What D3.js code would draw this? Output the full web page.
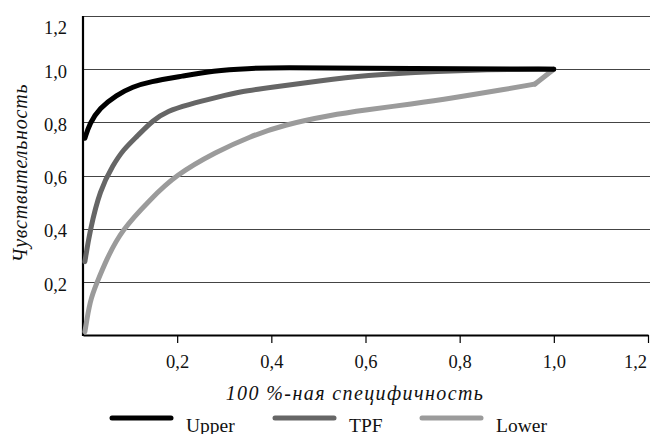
<html>
<head>
<meta charset="utf-8">
<script src="https://d3js.org/d3.v7.min.js"></script>
<style>
body { margin: 0; background: #fff; }
svg { display: block; font-family: 'Liberation Serif', 'DejaVu Serif', serif; }
</style>
</head>
<body>
<div id="chart"></div>
<script>
// values
var upperX = [0.004, 0.014, 0.035, 0.071, 0.106, 0.141, 0.212, 0.276, 0.35, 0.42, 0.6, 0.8, 1.0];
var upperY = [0.74, 0.796, 0.853, 0.903, 0.934, 0.953, 0.974, 0.994, 1.003, 1.006, 1.004, 1.001, 1.0];

var tpfX = [0.004, 0.015, 0.036, 0.064, 0.085, 0.114, 0.149, 0.18, 0.22, 0.291, 0.333, 0.4, 0.5, 0.61, 0.7, 0.82, 0.9, 1.0];
var tpfY = [0.276, 0.395, 0.546, 0.64, 0.696, 0.746, 0.809, 0.843, 0.865, 0.897, 0.915, 0.932, 0.956, 0.978, 0.988, 0.996, 0.999, 1.0];

var lowerX = [0.004, 0.015, 0.029, 0.05, 0.082, 0.142, 0.195, 0.284, 0.354, 0.425, 0.528, 0.6, 0.7, 0.78, 0.9, 0.96, 1.0];
var lowerY = [0.012, 0.132, 0.194, 0.285, 0.395, 0.508, 0.6, 0.69, 0.746, 0.79, 0.828, 0.846, 0.87, 0.89, 0.925, 0.944, 1.0];

var seriesNames = ["Upper", "TPF", "Lower"];
var seriesColors = ["#000000", "#666666", "#9b9b9b"];
var xTicks = [0.2, 0.4, 0.6, 0.8, 1.0, 1.2];
var yTicks = [0.2, 0.4, 0.6, 0.8, 1.0, 1.2];
var xTitle = "100 %-ная специфичность";
var yTitle = "Чувствительность";

var svg = d3.select("#chart").append("svg")
  .attr("width", 650)
  .attr("height", 434);

var x = d3.scaleLinear().domain([0, 1.2]).range([83, 648]);
var y = d3.scaleLinear().domain([0, 1.2]).range([335, 16]);

var fmt = function(d) { return d3.format(".1f")(d).replace(".", ","); };

// gridlines
svg.append("g").selectAll("line")
  .data(yTicks)
  .enter().append("line")
    .attr("x1", x(0)).attr("x2", 650)
    .attr("y1", function(d) { return Math.round(y(d)) + 0.5; })
    .attr("y2", function(d) { return Math.round(y(d)) + 0.5; })
    .attr("stroke", "#444")
    .attr("stroke-width", 1.2);

// x axis
var gx = svg.append("g")
  .attr("transform", "translate(0," + y(0) + ")")
  .call(d3.axisBottom(x).tickValues(xTicks).tickFormat(fmt).tickSize(8).tickSizeOuter(0));
gx.select(".domain").attr("stroke", "#000").attr("stroke-width", 2.2);
gx.selectAll(".tick line").attr("stroke", "#000").attr("stroke-width", 1.2);
gx.selectAll(".tick text")
  .attr("y", 33).attr("dy", 0)
  .attr("font-size", 18.5).attr("fill", "#111")
  .attr("font-family", "'Liberation Serif', serif");
// last label is pulled in so it fits
gx.selectAll(".tick text").filter(function(d) { return d === 1.2; }).attr("dx", -13);

// y axis
var gy = svg.append("g")
  .attr("transform", "translate(" + x(0) + ",0)")
  .call(d3.axisLeft(y).tickValues(yTicks).tickFormat(fmt).tickSize(0).tickSizeOuter(0));
gy.select(".domain").remove();
gy.selectAll(".tick text")
  .attr("x", -16).attr("dy", "0.45em")
  .attr("font-size", 18.5).attr("fill", "#111")
  .attr("font-family", "'Liberation Serif', serif");
// top label sits lower in the original
gy.selectAll(".tick text").filter(function(d) { return d === 1.2; }).attr("dy", "0.95em");

svg.append("line")
  .attr("x1", x(0)).attr("x2", x(0))
  .attr("y1", y(1.2)).attr("y2", y(0) + 1)
  .attr("stroke", "#000").attr("stroke-width", 2.2);

// curves
var smooth = d3.line()
  .x(function(d) { return x(d[0]); })
  .y(function(d) { return y(d[1]); })
  .curve(d3.curveBasis);
var straight = d3.line()
  .x(function(d) { return x(d[0]); })
  .y(function(d) { return y(d[1]); });

var upper = d3.zip(upperX, upperY);
var tpf = d3.zip(tpfX, tpfY);
var lower = d3.zip(lowerX, lowerY);

function drawPath(data, gen, color) {
  svg.append("path")
    .datum(data)
    .attr("fill", "none")
    .attr("stroke", color)
    .attr("stroke-width", 5)
    .attr("stroke-linecap", "round")
    .attr("stroke-linejoin", "round")
    .attr("d", gen);
}

// lower has a sharp corner before its last point
drawPath(lower.slice(0, -1), smooth, seriesColors[2]);
drawPath(lower.slice(-2), straight, seriesColors[2]);
drawPath(tpf, smooth, seriesColors[1]);
drawPath(upper, smooth, seriesColors[0]);

// axis titles
svg.append("text")
  .attr("x", 355).attr("y", 400)
  .attr("text-anchor", "middle")
  .attr("font-style", "italic")
  .attr("font-size", 20)
  .attr("letter-spacing", 1.4)
  .attr("fill", "#111")
  .text(xTitle);

svg.append("text")
  .attr("text-anchor", "middle")
  .attr("font-style", "italic")
  .attr("font-size", 20)
  .attr("letter-spacing", 0.8)
  .attr("fill", "#111")
  .attr("transform", "translate(27,173)rotate(-90)")
  .text(yTitle);

// legend
var legX = [112, 275, 422];
var leg = svg.append("g").selectAll("g")
  .data(seriesNames)
  .enter().append("g")
    .attr("transform", function(d, i) { return "translate(" + legX[i] + ",418)"; });
leg.append("line")
  .attr("x1", 0).attr("x2", 59)
  .attr("stroke", function(d, i) { return seriesColors[i]; })
  .attr("stroke-width", 5)
  .attr("stroke-linecap", "round");
leg.append("text")
  .attr("x", 74).attr("y", 14)
  .attr("font-size", 19.5)
  .attr("fill", "#111")
  .text(function(d) { return d; });
</script>
</body>
</html>
